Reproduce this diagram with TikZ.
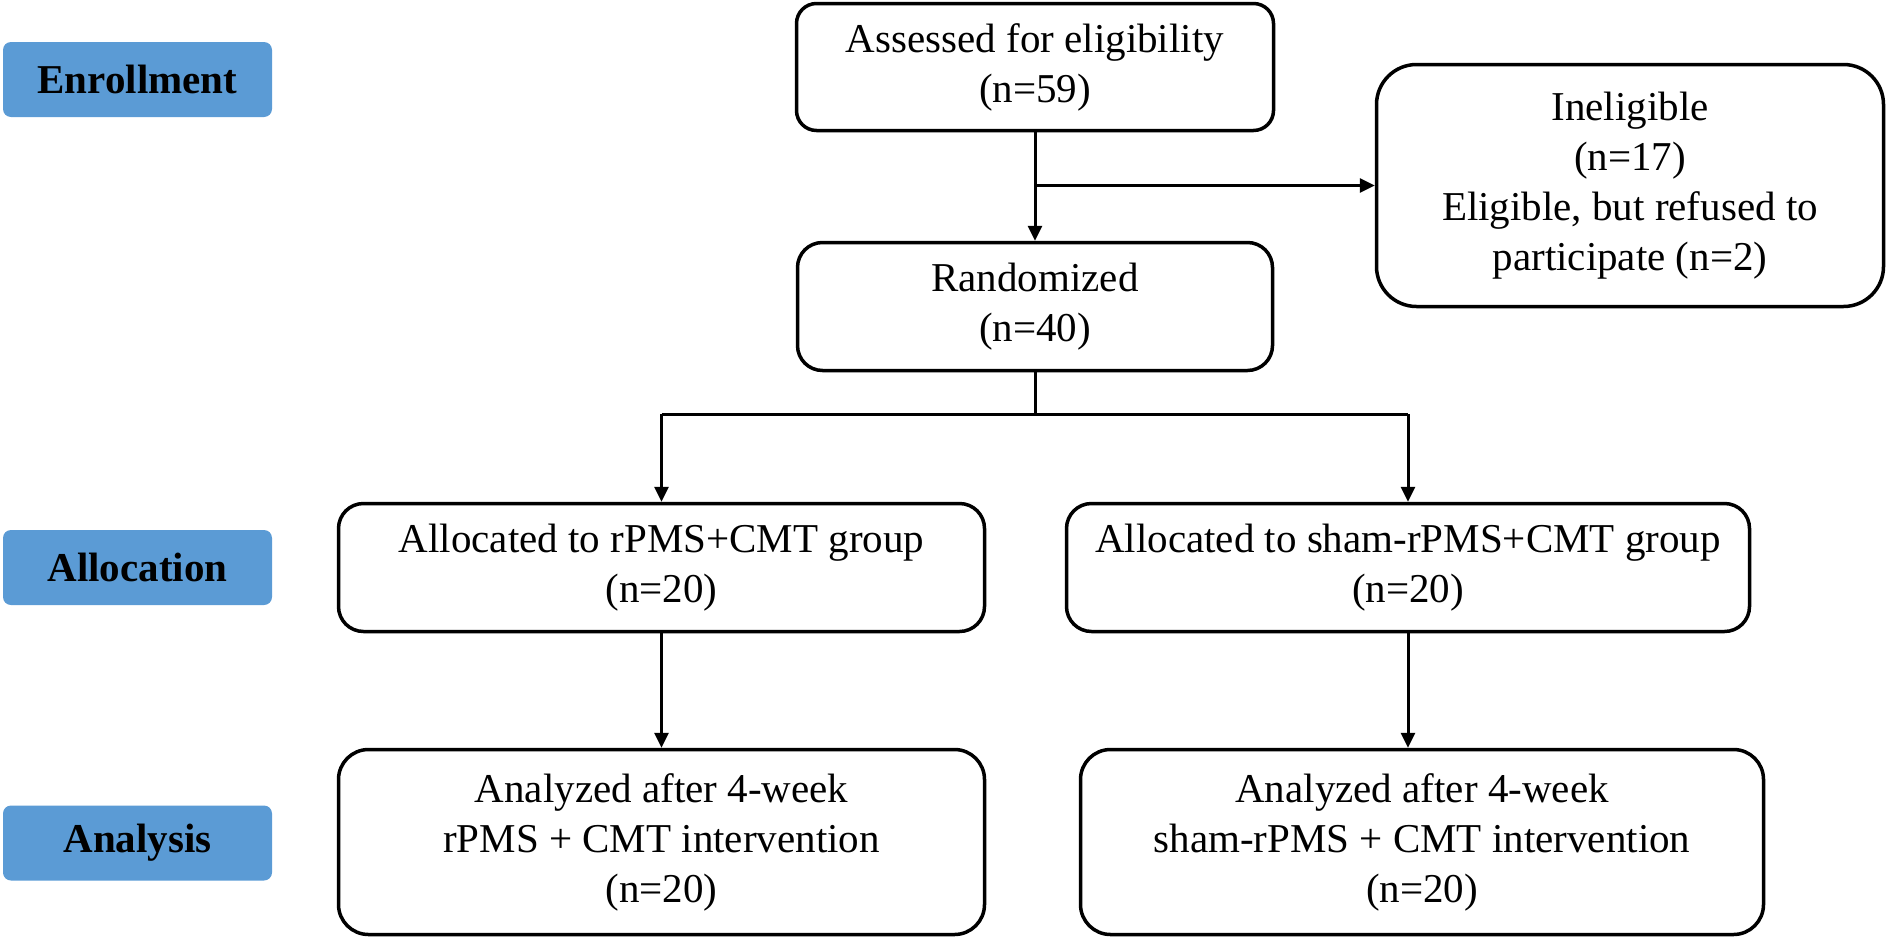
\documentclass[tikz,border=0pt]{standalone}
\usepackage{fontspec}
\setmainfont{Liberation Serif}
\usetikzlibrary{arrows.meta}
\definecolor{labelblue}{RGB}{91,155,213}
\tikzset{
  flowbox/.style={draw=black, line width=3.5pt, rectangle, align=center, inner sep=0pt,
    font=\fontsize{41}{50}\selectfont},
  stagebox/.style={fill=labelblue, rectangle, rounded corners=8pt, minimum width=269pt,
    minimum height=75pt, inner sep=0pt, font=\fontsize{41}{50}\selectfont\bfseries},
  conn/.style={line width=3pt, draw=black},
  arr/.style={conn, -{Triangle[length=15pt,width=14pt]}}
}
\begin{document}
\begin{tikzpicture}[x=1pt,y=-1pt]
\useasboundingbox (0,0) rectangle (1889,940);
% stage labels
\node[stagebox] (enr) at (137.5,79.5) {Enrollment};
\node[stagebox] (alc) at (137.5,567.5) {Allocation};
\node[stagebox] (ana) at (137.5,843) {Analysis};
% boxes
\node[flowbox, rounded corners=20pt, minimum width=477pt, minimum height=127pt] (assess) at (1035,67)
  {Assessed for eligibility\\(n=59)};
\node[flowbox, rounded corners=40pt, minimum width=507pt, minimum height=242pt] (inel) at (1630,185.5)
  {Ineligible\\(n=17)\\Eligible, but refused to\\participate (n=2)};
\node[flowbox, rounded corners=25pt, minimum width=475pt, minimum height=128pt] (rand) at (1035,306.5)
  {Randomized\\(n=40)};
\node[flowbox, rounded corners=25pt, minimum width=646pt, minimum height=128pt] (allocL) at (661.5,567.5)
  {Allocated to rPMS+CMT group\\(n=20)};
\node[flowbox, rounded corners=25pt, minimum width=683pt, minimum height=128pt] (allocR) at (1408,567.5)
  {Allocated to sham-rPMS+CMT group\\(n=20)};
\node[flowbox, rounded corners=30pt, minimum width=646pt, minimum height=185pt] (anaL) at (661.5,842)
  {Analyzed after 4-week\\rPMS + CMT intervention\\(n=20)};
\node[flowbox, rounded corners=30pt, minimum width=683pt, minimum height=185pt] (anaR) at (1422,842)
  {Analyzed after 4-week\\sham-rPMS + CMT intervention\\(n=20)};
% connectors
\coordinate (split) at (1035,414);
\draw[arr] (assess.south) -- (rand.north);
\draw[arr] (assess.south |- inel.west) -- (inel.west);
\draw[conn] (rand.south) -- (split);
\draw[conn] (allocL.north |- split) -- (allocR.north |- split);
\draw[arr] (allocL.north |- split) -- (allocL.north);
\draw[arr] (allocR.north |- split) -- (allocR.north);
\draw[arr] (allocL.south) -- (anaL.north);
\draw[arr] (allocR.south) -- (allocR.south |- anaR.north);
\end{tikzpicture}
\end{document}
